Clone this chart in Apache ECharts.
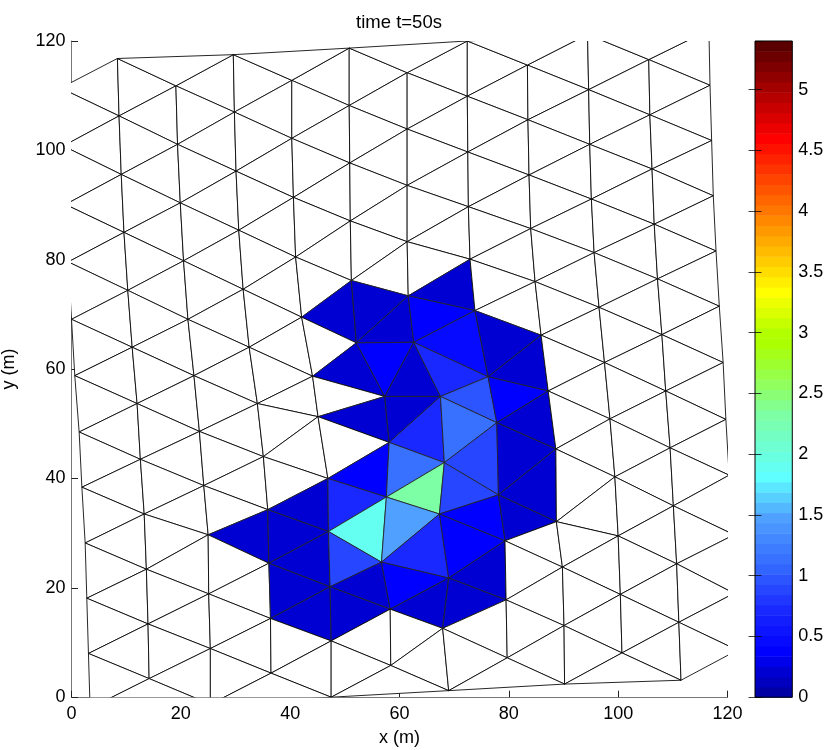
<!DOCTYPE html>
<html><head><meta charset="utf-8">
<script src="https://cdn.jsdelivr.net/npm/echarts@6/dist/echarts.min.js"></script>
<style>html,body{margin:0;padding:0;background:#fff}#c{width:830px;height:750px}</style>
</head><body><div id="c"></div>
<script>
const chartTitle = 'time t=50s';
const xAxisName = 'x (m)';
const yAxisName = 'y (m)';
const colorMax = 5.4;
const colorLevels = 64;

// Mesh nodes by column, in metres
const colA = [[-2.0,111.4],[-1.5,100.8],[-1.1,90.1],[-0.6,79.6],[0.0,69.1],[0.6,58.8],[1.4,48.5],[1.9,38.4],[2.5,28.2],[2.8,18.1],[3.1,8.0],[3.4,-2.0]];
const colB = [[8.4,116.8],[8.7,106.3],[9.1,95.6],[9.6,85.0],[10.3,74.4],[11.1,64.0],[12.0,53.7],[12.6,43.5],[13.3,33.5],[13.7,23.4],[14.0,13.4],[14.2,3.4]];
const colC = [[19.1,111.8],[19.4,101.1],[19.9,90.4],[20.5,79.8],[21.3,69.1],[22.4,58.8],[23.4,48.6],[24.2,38.7],[25.0,29.7],[25.1,18.9],[25.4,8.9],[25.4,-1.3]];
const colD = [[29.6,117.5],[29.8,107.0],[30.1,96.2],[30.6,85.4],[31.4,74.6],[32.5,64.0],[34.0,53.7],[35.1,44.0],[35.9,34.3],[36.1,24.5],[36.4,14.4],[36.5,4.4]];
const colE = [[40.3,112.8],[40.3,102.2],[40.6,91.4],[41.0,80.5],[42.1,69.5],[44.1,58.7],[45.1,51.3],[46.9,40.0],[47.0,30.3],[47.3,20.2],[47.5,10.3],[47.5,0.0]];
const colF = [[50.8,118.7],[50.8,108.2],[50.9,97.7],[51.0,87.1],[51.2,76.2],[52.1,64.8],[57.3,55.0],[58.1,46.6],[57.6,36.6],[56.7,24.7],[58.3,16.1],[58.4,5.8]];
const colG = [[61.4,114.2],[61.4,103.9],[61.4,93.6],[61.4,83.3],[61.6,73.4],[62.6,64.9],[67.5,55.0],[68.2,42.9],[67.3,33.5],[69.0,21.8],[67.9,12.6],[69.0,1.2]];
const colH = [[72.4,120.0],[72.4,109.9],[72.5,99.7],[72.6,89.7],[72.9,80.1],[73.8,70.7],[76.2,58.6],[77.8,50.2],[78.1,37.0],[79.3,28.6],[79.5,17.8],[79.7,7.2]];
const colI = [[83.4,115.6],[83.5,105.6],[83.7,95.5],[84.0,85.7],[84.8,76.0],[85.9,66.2],[87.2,56.0],[88.6,45.4],[88.7,32.1],[89.8,23.8],[90.1,13.1],[90.2,2.4]];
const colJ = [[94.4,121.2],[94.6,111.1],[94.8,101.1],[95.1,91.1],[95.6,81.3],[96.5,71.3],[97.5,61.2],[98.5,50.9],[99.4,40.3],[100.0,29.5],[100.4,18.8],[100.7,8.1]];
const colK = [[105.6,116.6],[105.8,106.5],[106.2,96.6],[106.6,86.5],[107.2,76.5],[108.0,66.3],[108.7,56.0],[109.5,45.6],[110.1,35.0],[110.7,24.4],[111.1,13.7],[111.5,3.1]];
const colL = [[116.6,122.0],[116.8,111.9],[117.1,101.8],[117.4,91.7],[117.9,81.6],[118.5,71.5],[119.2,61.2],[119.7,50.8],[120.3,40.6],[121.2,29.7],[121.2,19.0],[121.8,8.6]];
const columns = {A:colA,B:colB,C:colC,D:colD,E:colE,F:colF,G:colG,H:colH,I:colI,J:colJ,K:colK,L:colL};

// Water depth per wet cell: three corner nodes and a value
const wetCells = [
 ['C8','D8','D9',0.21],
 ['D8','E7','E8',0.21],['D8','D9','E8',0.21],['D9','E8','E9',0.21],['D9','D10','E9',0.21],['D10','E9','E10',0.21],
 ['E4','F4','F5',0.21],['E5','F5','F6',0.21],['E6','F6','F7',0.21],['E7','F7','F8',0.38],['E7','E8','F8',0.72],
 ['E8','F8','F9',1.87],['E8','E9','F9',0.89],['E9','F9','F10',0.21],['E9','E10','F10',0.21],
 ['F4','F5','G4',0.21],['F5','G4','G5',0.21],['F5','F6','G5',0.38],['F6','G5','G6',0.21],['F6','F7','G6',0.21],
 ['F7','G6','G7',0.72],['F7','F8','G7',1.1],['F8','G7','G8',2.32],['F8','F9','G8',1.48],['F9','G8','G9',0.72],
 ['F9','F10','G9',0.38],['F10','G9','G10',0.21],
 ['G4','H4','H5',0.21],['G4','G5','H5',0.38],['G5','H5','H6',0.46],['G5','G6','H6',0.72],['G6','H6','H7',0.97],
 ['G6','G7','H7',1.1],['G7','H7','H8',0.89],['G7','G8','H8',0.89],['G8','H8','H9',0.38],['G8','G9','H9',0.38],
 ['G9','H9','H10',0.21],['G9','G10','H10',0.21],
 ['H5','H6','I5',0.21],['H6','I5','I6',0.21],['H6','H7','I6',0.38],['H7','I6','I7',0.21],['H7','H8','I7',0.21],
 ['H8','I7','I8',0.21],['H8','H9','I8',0.21]
];

// Colour map control points: [level, channel value]
const redStops = [[1,0],[5,0],[9,25],[13,50],[18,80],[22,95],[28,125],[36,178],[40,255],[55,255],[64,90]];
const greenStops = [[1,0],[5,0],[9,40],[13,100],[18,160],[22,255],[40,255],[55,0],[64,0]];
const blueStops = [[1,165],[2,190],[3,210],[4,235],[5,255],[22,255],[28,165],[35,0],[64,0]];
const tickFont = 'Liberation Sans';

function lerp(stops, i){
  for(let k=1;k<stops.length;k++){
    if(i<=stops[k][0]){const a=stops[k-1],b=stops[k];return Math.round(a[1]+(b[1]-a[1])*(i-a[0])/(b[0]-a[0]));}
  }
  return stops[stops.length-1][1];
}
const palette=[];
for(let i=1;i<=colorLevels;i++) palette.push(`rgb(${lerp(redStops,i)},${lerp(greenStops,i)},${lerp(blueStops,i)})`);
function colorOf(v){return palette[Math.min(colorLevels-1,Math.floor(v/colorMax*colorLevels))];}

const wetLookup={};
wetCells.forEach(c=>{wetLookup[c.slice(0,3).slice().sort().join('|')]=c[3];});
const node=id=>columns[id[0]][+id.slice(1)];

// Triangles from the mesh topology
const names='ABCDEFGHIJKL';
const triangles=[];
function add(a,b,c){
  const key=[a,b,c].sort().join('|');
  triangles.push({pts:[node(a),node(b),node(c)],v:wetLookup[key]});
}
for(let c=0;c<names.length-1;c++){
  const l=names[c],r=names[c+1];
  const P=(c%2===0)?r:l, Q=(c%2===0)?l:r;
  for(let k=0;k<11;k++){
    add(P+k,P+(k+1),Q+k);
    add(Q+k,Q+(k+1),P+(k+1));
  }
}
// top boundary strip: high columns joined over the low column
for(let c=2;c<names.length-1;c+=2){ add(names[c-1]+0,names[c]+0,names[c+1]+0); }
// bottom boundary strip
for(let c=0;c<names.length-2;c+=2){ add(names[c]+11,names[c+1]+11,names[c+2]+11); }

const chart=echarts.init(document.getElementById('c'),null,{renderer:'canvas'});
const lbl={color:'#000',fontFamily:tickFont,fontSize:18};
chart.setOption({
  animation:false,
  backgroundColor:'#fff',
  title:{text:chartTitle,left:394,top:8,textAlign:'center',textStyle:{color:'#000',fontFamily:tickFont,fontSize:18.5,fontWeight:'normal'}},
  grid:[
    {left:71.5,right:102.5,top:41,bottom:52.8,outerBoundsMode:'none'},
    {left:755,width:37.3,top:41,bottom:52.8,outerBoundsMode:'none',show:true,borderColor:'#000',borderWidth:1,backgroundColor:'transparent',z:5}
  ],
  xAxis:[
    {gridIndex:0,type:'value',min:0,max:120,interval:20,name:xAxisName,nameLocation:'middle',nameGap:32,
     nameTextStyle:{color:'#000',fontFamily:tickFont,fontSize:18},
     axisLine:{onZero:false,lineStyle:{color:'#777',width:1}},axisTick:{inside:true,length:6.5,lineStyle:{color:'#222'}},
     axisLabel:Object.assign({margin:8},lbl),splitLine:{show:false}},
    {gridIndex:1,type:'value',min:0,max:1,show:false}
  ],
  yAxis:[
    {gridIndex:0,type:'value',min:0,max:120,interval:20,name:yAxisName,nameLocation:'middle',nameGap:53,
     nameTextStyle:{color:'#000',fontFamily:tickFont,fontSize:18},
     axisLine:{onZero:false,lineStyle:{color:'#777',width:1}},axisTick:{inside:true,length:6.5,lineStyle:{color:'#222'}},
     axisLabel:Object.assign({margin:6,padding:[3,0,0,0]},lbl),splitLine:{show:false}},
    {gridIndex:1,type:'value',min:0,max:colorMax,interval:0.5,position:'right',
     axisLine:{show:false},axisTick:{inside:true,length:6.5,lineStyle:{color:'#000',opacity:0.75}},
     axisLabel:Object.assign({margin:6,showMaxLabel:false,padding:[3,0,0,0]},lbl),splitLine:{show:false},z:6},
    {gridIndex:1,type:'value',min:0,max:colorMax,interval:0.5,position:'left',
     axisLine:{show:false},axisTick:{inside:true,length:6.5,lineStyle:{color:'#000',opacity:0.75}},
     axisLabel:{show:false},splitLine:{show:false},z:6}
  ],
  series:[
    {type:'custom',xAxisIndex:0,yAxisIndex:0,clip:true,silent:true,
     data:triangles.map((t,i)=>[t.pts[0][0],t.pts[0][1],i]),
     renderItem(params,api){
       const t=triangles[params.dataIndex];
       return {type:'polygon',shape:{points:t.pts.map(p=>api.coord(p))},
         style:{fill:t.v===undefined?'#fff':colorOf(t.v),stroke:t.v===undefined?'#000':'#222',lineWidth:0.85}};
     }},
    {type:'custom',xAxisIndex:1,yAxisIndex:1,silent:true,
     data:palette.map((c,i)=>[0,i]),
     renderItem(params,api){
       const i=params.dataIndex, step=colorMax/colorLevels;
       const a=api.coord([0,i*step]), b=api.coord([1,(i+1)*step]);
       return {type:'rect',shape:{x:a[0],y:b[1],width:b[0]-a[0],height:a[1]-b[1]+0.5},style:{fill:palette[i]}};
     }}
  ]
});
</script></body></html>
